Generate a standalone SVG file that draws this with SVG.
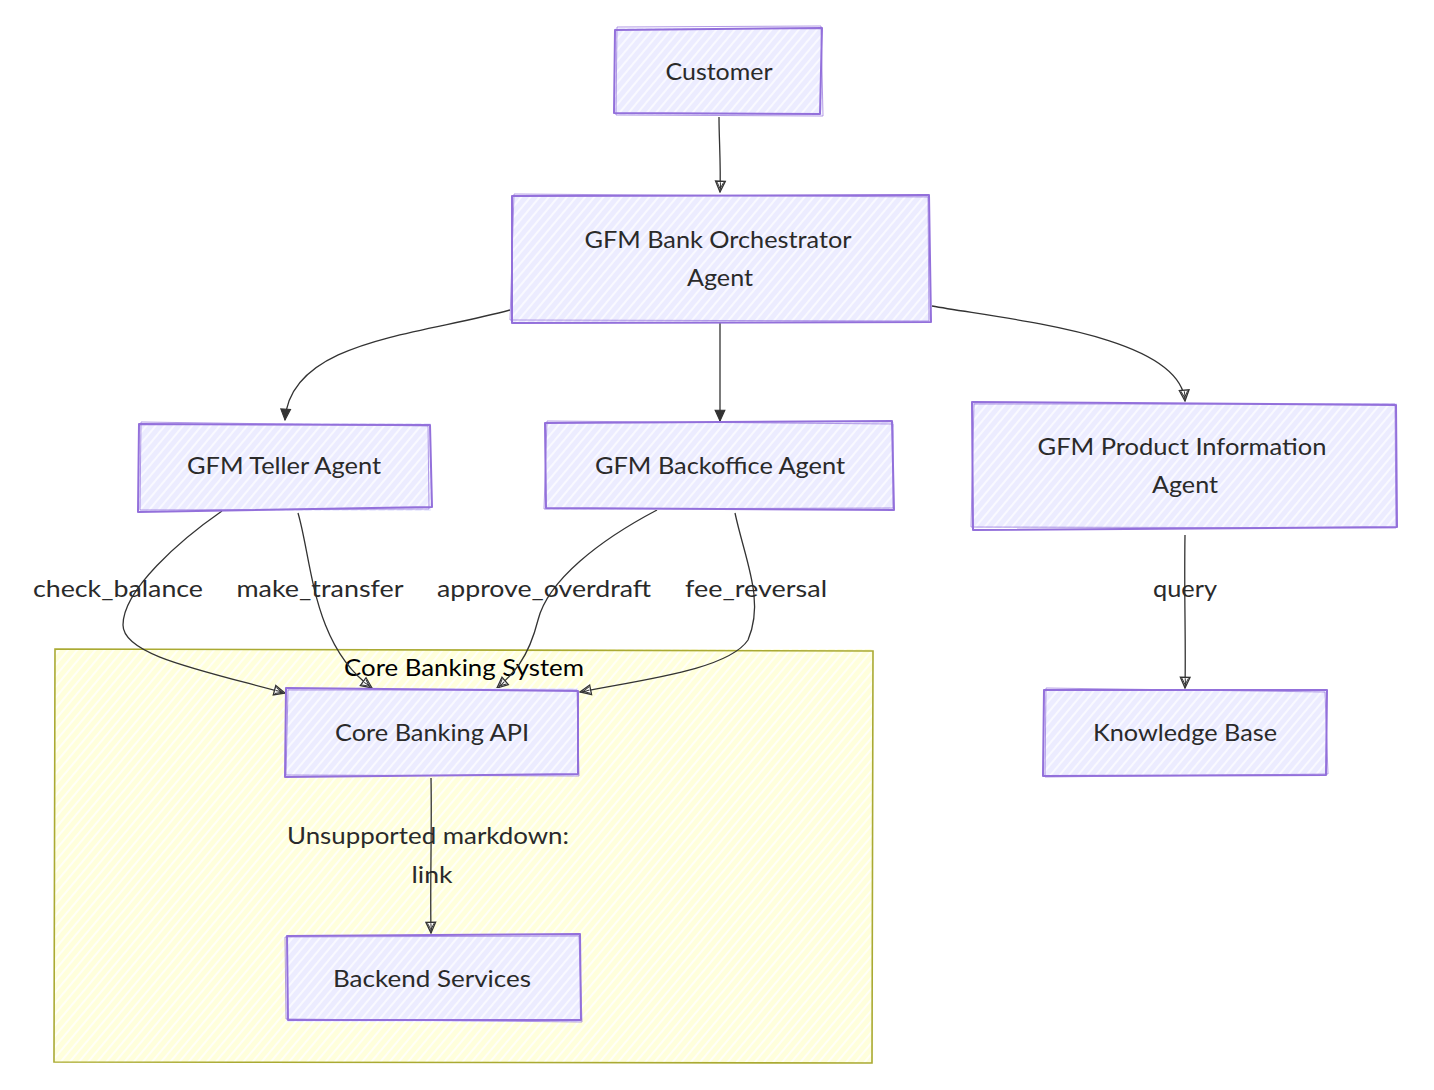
<svg xmlns="http://www.w3.org/2000/svg" width="1434" height="1090" viewBox="0 0 1434 1090">
<style>
.nodebg{fill:url(#hatchNode);}
.nodeb{fill:none;stroke:#9370DB;stroke-width:2;stroke-linejoin:round;}
.nodeb2{fill:none;stroke:#9370DB;stroke-width:1;opacity:0.7;}
.clbg{fill:url(#hatchCl);}
.clb{fill:none;stroke:#AAAA33;stroke-width:1.6;}
.t{font-family:"Trebuchet MS",Lato,"Open Sans",sans-serif;font-size:24px;fill:#2a2a2a;text-anchor:middle;}
.ct{font-family:"Trebuchet MS",Lato,"Open Sans",sans-serif;font-size:24px;fill:#000;text-anchor:middle;}
.e{fill:none;stroke:#333;stroke-width:1.3;}
</style>
<defs>
<pattern id="hatchNode" patternUnits="userSpaceOnUse" width="7" height="7" patternTransform="rotate(40)">
<rect width="7" height="7" fill="#ECECFF"/>
<line x1="1" y1="0" x2="1" y2="7" stroke="#ffffff" stroke-width="1.4"/>
</pattern>
<pattern id="hatchCl" patternUnits="userSpaceOnUse" width="7" height="7" patternTransform="rotate(40)">
<rect width="7" height="7" fill="#FFFFDC"/>
<line x1="1" y1="0" x2="1" y2="7" stroke="#ffffff" stroke-width="1.6"/>
</pattern>
<marker id="ah" viewBox="0 0 12 12" refX="11" refY="6" markerWidth="13" markerHeight="13" markerUnits="userSpaceOnUse" orient="auto">
<path d="M1,1.5 L11,6 L1,10.5 Z" fill="#333" stroke="#333" stroke-width="1"/>
</marker>
<marker id="ao" viewBox="0 0 12 12" refX="11" refY="6" markerWidth="13" markerHeight="13" markerUnits="userSpaceOnUse" orient="auto">
<path d="M1,1.5 L11,6 L1,10.5 Z" fill="#fff" stroke="#333" stroke-width="1.2"/>
<path d="M2,3 L9,6.5 M2,6 L9,5.5 M2,9 L8,6" stroke="#333" stroke-width="0.9" fill="none"/>
</marker>
</defs>

<g id="cluster-core-banking">
<rect class="clbg" x="55" y="649" width="818" height="414"/>
<path class="clb" d="M55,649 L873,651 L872,1063 L54,1062 Z"/>
<text class="ct" x="464" y="676" textLength="240" lengthAdjust="spacingAndGlyphs">Core Banking System</text>
</g>

<g id="edges">
<path class="e" d="M719,117 C719,140 721,165 720,192" marker-end="url(#ao)"/>
<path class="e" d="M510,310 C420,335 290,340 285,420" marker-end="url(#ah)"/>
<path class="e" d="M720,323 L720,421" marker-end="url(#ah)"/>
<path class="e" d="M932,306 C1010,320 1180,335 1185,401" marker-end="url(#ao)"/>
<path class="e" d="M222,511 C180,540 123,590 123,625 C123,655 200,670 285,693" marker-end="url(#ao)"/>
<path class="e" d="M298,513 C312,560 312,645 372,688" marker-end="url(#ao)"/>
<path class="e" d="M657,510 C600,540 548,580 538,620 C528,660 512,675 497,688" marker-end="url(#ao)"/>
<path class="e" d="M735,513 C745,560 765,600 748,640 C728,670 640,680 580,692" marker-end="url(#ao)"/>
<path class="e" d="M1185,535 C1184,600 1186,640 1185,688" marker-end="url(#ao)"/>
<path class="e" d="M431,778 C432,830 430,880 431,933" marker-end="url(#ao)"/>
<text class="t" x="118" y="597" textLength="170" lengthAdjust="spacingAndGlyphs">check_balance</text>
<text class="t" x="320" y="597" textLength="167" lengthAdjust="spacingAndGlyphs">make_transfer</text>
<text class="t" x="544" y="597" textLength="214" lengthAdjust="spacingAndGlyphs">approve_overdraft</text>
<text class="t" x="756" y="597" textLength="142" lengthAdjust="spacingAndGlyphs">fee_reversal</text>
<text class="t" x="1185" y="597" textLength="64" lengthAdjust="spacingAndGlyphs">query</text>
<text class="t" x="428" y="844" textLength="282" lengthAdjust="spacingAndGlyphs">Unsupported markdown:</text>
<text class="t" x="432" y="883" textLength="41" lengthAdjust="spacingAndGlyphs">link</text>
</g>

<g id="node-customer">
<rect class="nodebg" x="615" y="28" width="207" height="87"/>
<path class="nodeb" d="M615,30 L822,28 L820,114 L614,113 Z"/>
<path class="nodeb2" d="M617,27 L821,26 L823,116 L616,115 Z"/>
<text class="t" x="719" y="80" textLength="107" lengthAdjust="spacingAndGlyphs">Customer</text>
</g>

<g id="node-orchestrator">
<rect class="nodebg" x="512" y="195" width="418" height="128"/>
<path class="nodeb" d="M512,196 L929,195 L931,322 L512,323 Z"/>
<path class="nodeb2" d="M514,194 L928,197 L929,321 L510,320 Z"/>
<text class="t" x="718" y="248" textLength="267" lengthAdjust="spacingAndGlyphs">GFM Bank Orchestrator</text>
<text class="t" x="720" y="286" textLength="66" lengthAdjust="spacingAndGlyphs">Agent</text>
</g>

<g id="node-teller">
<rect class="nodebg" x="139" y="423" width="292" height="88"/>
<path class="nodeb" d="M139,424 L430,425 L432,507 L138,512 Z"/>
<path class="nodeb2" d="M141,422 L428,426 L429,509 L140,510 Z"/>
<text class="t" x="284" y="474" textLength="194" lengthAdjust="spacingAndGlyphs">GFM Teller Agent</text>
</g>

<g id="node-backoffice">
<rect class="nodebg" x="545" y="422" width="349" height="88"/>
<path class="nodeb" d="M545,423 L892,421 L894,510 L546,508 Z"/>
<path class="nodeb2" d="M547,421 L893,424 L893,508 L544,509 Z"/>
<text class="t" x="720" y="474" textLength="250" lengthAdjust="spacingAndGlyphs">GFM Backoffice Agent</text>
</g>

<g id="node-product">
<rect class="nodebg" x="972" y="403" width="425" height="125"/>
<path class="nodeb" d="M972,402 L1396,405 L1397,527 L973,530 Z"/>
<path class="nodeb2" d="M974,404 L1395,404 L1396,528 L971,527 Z"/>
<text class="t" x="1182" y="455" textLength="289" lengthAdjust="spacingAndGlyphs">GFM Product Information</text>
<text class="t" x="1185" y="493" textLength="66" lengthAdjust="spacingAndGlyphs">Agent</text>
</g>

<g id="node-knowledge">
<rect class="nodebg" x="1043" y="689" width="284" height="87"/>
<path class="nodeb" d="M1044,690 L1327,690 L1326,775 L1043,776 Z"/>
<path class="nodeb2" d="M1046,688 L1325,692 L1328,774 L1045,777 Z"/>
<text class="t" x="1185" y="741" textLength="184" lengthAdjust="spacingAndGlyphs">Knowledge Base</text>
</g>

<g id="node-api">
<rect class="nodebg" x="285" y="688" width="293" height="88"/>
<path class="nodeb" d="M286,688 L578,691 L578,774 L285,777 Z"/>
<path class="nodeb2" d="M288,690 L577,690 L579,776 L286,775 Z"/>
<text class="t" x="432" y="741" textLength="194" lengthAdjust="spacingAndGlyphs">Core Banking API</text>
</g>

<g id="node-backend">
<rect class="nodebg" x="286" y="935" width="295" height="87"/>
<path class="nodeb" d="M287,936 L580,934 L581,1020 L288,1020 Z"/>
<path class="nodeb2" d="M285,937 L579,936 L582,1022 L286,1019 Z"/>
<text class="t" x="432" y="987" textLength="198" lengthAdjust="spacingAndGlyphs">Backend Services</text>
</g>
</svg>
